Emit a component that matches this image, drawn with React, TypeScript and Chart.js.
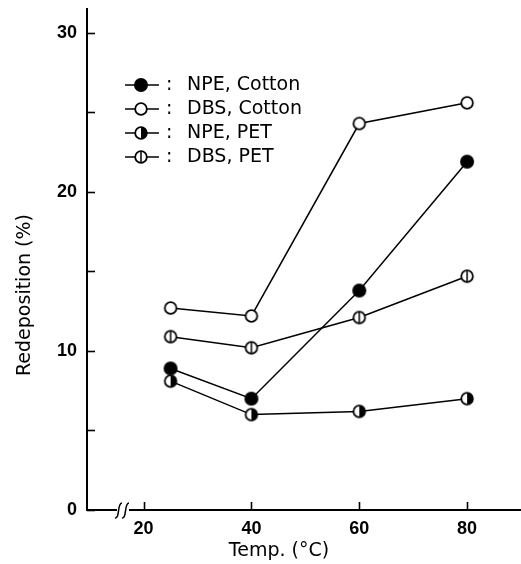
import React, { useEffect, useRef } from 'react';
import { Chart, registerables } from 'chart.js';
Chart.register(...registerables);

const temps = [25, 40, 60, 80];
const npeCotton = [8.9, 7.0, 13.8, 21.9];
const dbsCotton = [12.7, 12.2, 24.3, 25.6];
const npePet = [8.1, 6.0, 6.2, 7.0];
const dbsPet = [10.9, 10.2, 12.1, 14.7];
const seriesLabels = ['NPE, Cotton', 'DBS, Cotton', 'NPE, PET', 'DBS, PET'];
const yTickValues = [0, 5, 10, 15, 20, 25, 30];
const yLabelValues = [0, 10, 20, 30];
const xTickValues = [20, 40, 60, 80];
const xTitle = 'Temp. (°C)';
const yTitle = 'Redeposition (%)';

type MarkerKind = 'filled' | 'open' | 'half' | 'bar';

function makeMarker(kind: MarkerKind): HTMLCanvasElement {
  const s = 18;
  const c = document.createElement('canvas');
  c.width = s;
  c.height = s;
  const ctx = c.getContext('2d')!;
  const cx = s / 2, cy = s / 2;
  const r = kind === 'filled' ? 6.1 : 5.8;
  ctx.lineWidth = 1.8;
  ctx.strokeStyle = '#000';
  ctx.beginPath();
  ctx.arc(cx, cy, r, 0, Math.PI * 2);
  ctx.fillStyle = kind === 'filled' ? '#000' : '#fff';
  ctx.fill();
  if (kind === 'half') {
    ctx.beginPath();
    ctx.moveTo(cx, cy - r);
    ctx.arc(cx, cy, r, -Math.PI / 2, Math.PI / 2);
    ctx.closePath();
    ctx.fillStyle = '#000';
    ctx.fill();
  }
  ctx.beginPath();
  ctx.arc(cx, cy, r, 0, Math.PI * 2);
  ctx.stroke();
  if (kind === 'bar') {
    ctx.beginPath();
    ctx.moveTo(cx, cy - r);
    ctx.lineTo(cx, cy + r);
    ctx.lineWidth = 1.5;
    ctx.stroke();
  }
  return c;
}

export default function App() {
  const ref = useRef<HTMLCanvasElement | null>(null);

  useEffect(() => {
    if (!ref.current) return;
    const markers = [makeMarker('filled'), makeMarker('open'), makeMarker('half'), makeMarker('bar')];
    const series = [npeCotton, dbsCotton, npePet, dbsPet];

    const overlay = {
      id: 'overlay',
      afterDraw(chart: any) {
        const { ctx, chartArea } = chart;
        const xs = chart.scales.x;
        const ys = chart.scales.y;
        ctx.save();
        ctx.strokeStyle = '#000';
        ctx.fillStyle = '#000';
        // inner tick marks
        ctx.lineWidth = 1.6;
        yTickValues.forEach((v) => {
          const y = Math.round(ys.getPixelForValue(v)) + 0.5;
          ctx.beginPath();
          ctx.moveTo(chartArea.left, y);
          ctx.lineTo(chartArea.left + 8, y);
          ctx.stroke();
        });
        xTickValues.forEach((v) => {
          const x = Math.round(xs.getPixelForValue(v)) + 0.5;
          ctx.beginPath();
          ctx.moveTo(x, chartArea.bottom);
          ctx.lineTo(x, chartArea.bottom - 8);
          ctx.stroke();
        });
        // axis break
        ctx.fillStyle = '#fff';
        ctx.fillRect(117, chartArea.bottom - 2, 12, 4);
        ctx.lineWidth = 1.5;
        [119, 126].forEach((cx) => {
          ctx.beginPath();
          ctx.moveTo(cx - 4, chartArea.bottom + 8);
          ctx.bezierCurveTo(cx + 1, chartArea.bottom + 9, cx - 2, chartArea.bottom - 7, cx + 3, chartArea.bottom - 7);
          ctx.stroke();
        });
        // legend
        ctx.fillStyle = '#000';
        ctx.font = '19px "DejaVu Sans"';
        ctx.textBaseline = 'middle';
        ctx.textAlign = 'left';
        seriesLabels.forEach((lab, i) => {
          const y = 85 + i * 24;
          ctx.lineWidth = 1.6;
          ctx.beginPath();
          ctx.moveTo(125, y);
          ctx.lineTo(159, y);
          ctx.stroke();
          const m = markers[i];
          ctx.drawImage(m, 141 - m.width / 2, y - m.height / 2);
          ctx.fillText(':', 166, y);
          ctx.fillText(lab, 187, y);
        });
        // axis titles
        ctx.textAlign = 'center';
        ctx.font = '19px "DejaVu Sans"';
        ctx.fillText(xTitle, 279, 551);
        ctx.save();
        ctx.translate(25, 295);
        ctx.rotate(-Math.PI / 2);
        ctx.fillText(yTitle, 0, 0);
        ctx.restore();
        ctx.restore();
      },
    };

    const tickFont = { family: '"Liberation Sans", Arial, sans-serif', size: 18, weight: 'bold' as const };

    const chart = new Chart(ref.current, {
      type: 'line',
      data: {
        datasets: series.map((arr, i) => ({
          label: seriesLabels[i],
          data: temps.map((t, j) => ({ x: t, y: arr[j] })),
          borderColor: '#000',
          borderWidth: 1.5,
          pointStyle: markers[i] as any,
          pointRadius: 7,
          fill: false,
          tension: 0,
        })),
      },
      options: {
        animation: false,
        responsive: false,
        devicePixelRatio: 1,
        layout: { autoPadding: false, padding: { top: 9, left: 0, right: 0, bottom: 0 } },
        plugins: { legend: { display: false }, tooltip: { enabled: false } },
        scales: {
          x: {
            type: 'linear',
            min: 9.5,
            max: 90,
            afterBuildTicks: (s: any) => {
              s.ticks = xTickValues.map((v) => ({ value: v }));
            },
            afterFit: (s: any) => {
              s.height = 54;
              s.paddingLeft = 0;
              s.paddingRight = 0;
            },
            ticks: {
              font: tickFont,
              color: '#000',
              padding: 8,
              maxRotation: 0,
              autoSkip: false,
              callback: (v: any) => String(v),
            },
            grid: { display: false, drawTicks: false },
            border: { display: true, color: '#000', width: 2 },
          },
          y: {
            type: 'linear',
            min: 0,
            max: 31.5,
            afterBuildTicks: (s: any) => {
              s.ticks = yTickValues.map((v) => ({ value: v }));
            },
            afterFit: (s: any) => {
              s.width = 87;
              s.paddingTop = 0;
              s.paddingBottom = 0;
            },
            ticks: {
              font: tickFont,
              color: '#000',
              padding: 10,
              autoSkip: false,
              callback: (v: any) => (yLabelValues.includes(v) ? String(v) : ''),
            },
            grid: { display: false, drawTicks: false },
            border: { display: true, color: '#000', width: 2 },
          },
        },
      },
      plugins: [overlay],
    });
    return () => chart.destroy();
  }, []);

  return (
    <div style={{ position: 'absolute', left: 0, top: 0, width: 521, height: 564, background: '#fff' }}>
      <canvas ref={ref} width={521} height={564} />
    </div>
  );
}
